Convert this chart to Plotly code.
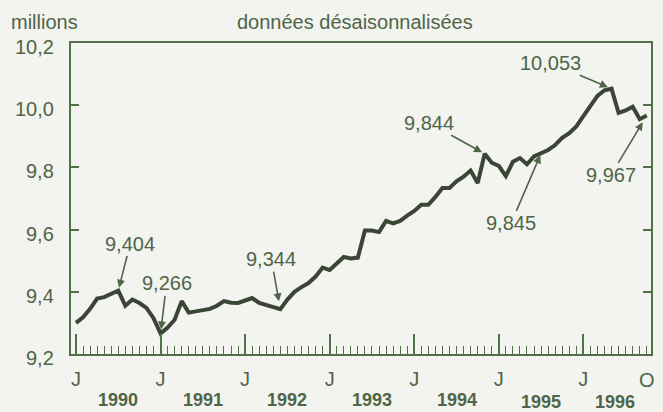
import plotly.graph_objects as go

# Monthly data, Jan 1990 (index 0) to Oct 1996 (index 81), millions
months = list(range(82))
values = [
    9.300, 9.318, 9.345, 9.378, 9.383, 9.392, 9.404, 9.355, 9.375, 9.364, 9.348, 9.315,  # 1990
    9.266, 9.285, 9.310, 9.370, 9.333, 9.337, 9.340, 9.345, 9.355, 9.370, 9.365, 9.364,  # 1991
    9.372, 9.380, 9.364, 9.357, 9.350, 9.344, 9.375, 9.400, 9.415, 9.428, 9.449, 9.478,  # 1992
    9.470, 9.490, 9.512, 9.507, 9.510, 9.597, 9.597, 9.592, 9.628, 9.620, 9.628, 9.645,  # 1993
    9.660, 9.680, 9.680, 9.705, 9.734, 9.734, 9.755, 9.770, 9.790, 9.750, 9.844, 9.815,  # 1994
    9.805, 9.772, 9.818, 9.830, 9.810, 9.835, 9.845, 9.856, 9.872, 9.895, 9.910, 9.932,  # 1995
    9.965, 9.998, 10.030, 10.048, 10.053, 9.975, 9.983, 9.995, 9.955, 9.967,             # 1996
]

month_ticks = [0, 12, 24, 36, 48, 60, 72]
month_tick_text = ["J", "J", "J", "J", "J", "J", "J"]
end_tick = 81
end_tick_text = "O"
year_labels = ["1990", "1991", "1992", "1993", "1994", "1995", "1996"]
year_positions = [6, 18, 30, 42, 54, 66, 76.5]

y_ticks = [9.2, 9.4, 9.6, 9.8, 10.0, 10.2]
y_tick_text = ["9,2", "9,4", "9,6", "9,8", "10,0", "10,2"]

# Callouts at selected months
callout_idx = [6, 12, 29, 58, 66, 76, 81]
callout_text = ["9,404", "9,266", "9,344", "9,844", "9,845", "10,053", "9,967"]
callout_ax = [12, 6, -9, -56, -30, -61, -36]
callout_ay = [-47, -50, -50, -31, 70, -26, 60]
callout_standoff = [3, 4, 8, 3, 2, 4, 8]

BG = "#f3f3ef"
INK = "#4f6548"
FRAME = "#52704a"
LINE = "#3b4536"
FONT = "Liberation Sans, Arial, Helvetica, sans-serif"

fig = go.Figure()
fig.add_trace(go.Scatter(
    x=months, y=values, mode="lines",
    line=dict(color=LINE, width=4, shape="linear"),
    hoverinfo="skip", showlegend=False,
))

annotations = []
for v, t in zip(y_ticks, y_tick_text):
    annotations.append(dict(
        x=0, xref="paper", y=v, yref="y", text=t, showarrow=False,
        xanchor="right", yanchor="middle", xshift=-15, yshift=-4,
        font=dict(family=FONT, size=20, color=INK),
    ))
annotations.append(dict(
    x=end_tick, xref="x", y=0, yref="paper", text=end_tick_text, showarrow=False,
    xanchor="center", yanchor="top", yshift=-13,
    font=dict(family=FONT, size=20, color=INK),
))
for i, (p, t) in enumerate(zip(year_positions, year_labels)):
    annotations.append(dict(
        x=p, xref="x", y=0, yref="paper", text="<b>" + t + "</b>", showarrow=False,
        xanchor="center", yanchor="top", yshift=-34 if i < 5 else -36,
        font=dict(family=FONT, size=18, color=INK),
    ))
for m, t, ax, ay, so in zip(callout_idx, callout_text, callout_ax, callout_ay, callout_standoff):
    annotations.append(dict(
        x=months[m], y=values[m], xref="x", yref="y", text=t,
        showarrow=True, ax=ax, ay=ay, axref="pixel", ayref="pixel",
        arrowhead=2, arrowsize=1, arrowwidth=1.6, arrowcolor=INK, standoff=so,
        font=dict(family=FONT, size=20, color=INK),
    ))
annotations.append(dict(
    x=-0.107, xref="paper", y=1.0, yref="paper", text="millions", showarrow=False,
    xanchor="left", yanchor="bottom", yshift=8,
    font=dict(family=FONT, size=20, color=INK),
))
annotations.append(dict(
    x=0.49, xref="paper", y=1.0, yref="paper", text="données désaisonnalisées",
    showarrow=False, xanchor="center", yanchor="bottom", yshift=8,
    font=dict(family=FONT, size=20, color=INK),
))

fig.update_layout(
    width=663, height=412,
    margin=dict(l=71, r=10, t=43, b=58),
    paper_bgcolor=BG, plot_bgcolor=BG,
    showlegend=False,
    font=dict(family=FONT, size=20, color=INK),
    annotations=annotations,
)

fig.update_xaxes(
    range=[-0.71, 81.6], showgrid=False, zeroline=False,
    showline=True, linecolor=FRAME, linewidth=2.2, mirror=True,
    tickmode="array", tickvals=month_ticks, ticktext=month_tick_text,
    ticks="inside", ticklen=20, tickwidth=1.6, tickcolor=FRAME,
    ticklabelstandoff=6,
    tickfont=dict(family=FONT, size=20, color=INK),
    minor=dict(dtick=1, tick0=0, ticks="inside", ticklen=8, tickwidth=1.4, tickcolor=FRAME, showgrid=False),
)
fig.update_yaxes(
    range=[9.2, 10.2], showgrid=False, zeroline=False,
    showline=True, linecolor=FRAME, linewidth=2.2, mirror="ticks",
    tickmode="array", tickvals=y_ticks, ticks="inside", ticklen=8, tickwidth=1.6,
    tickcolor=FRAME, showticklabels=False,
)

fig.write_html(
    "out.html",
    config={"displayModeBar": False},
    post_script="document.body.style.margin='0';document.body.style.overflow='hidden';document.body.style.background='" + BG + "';",
)
